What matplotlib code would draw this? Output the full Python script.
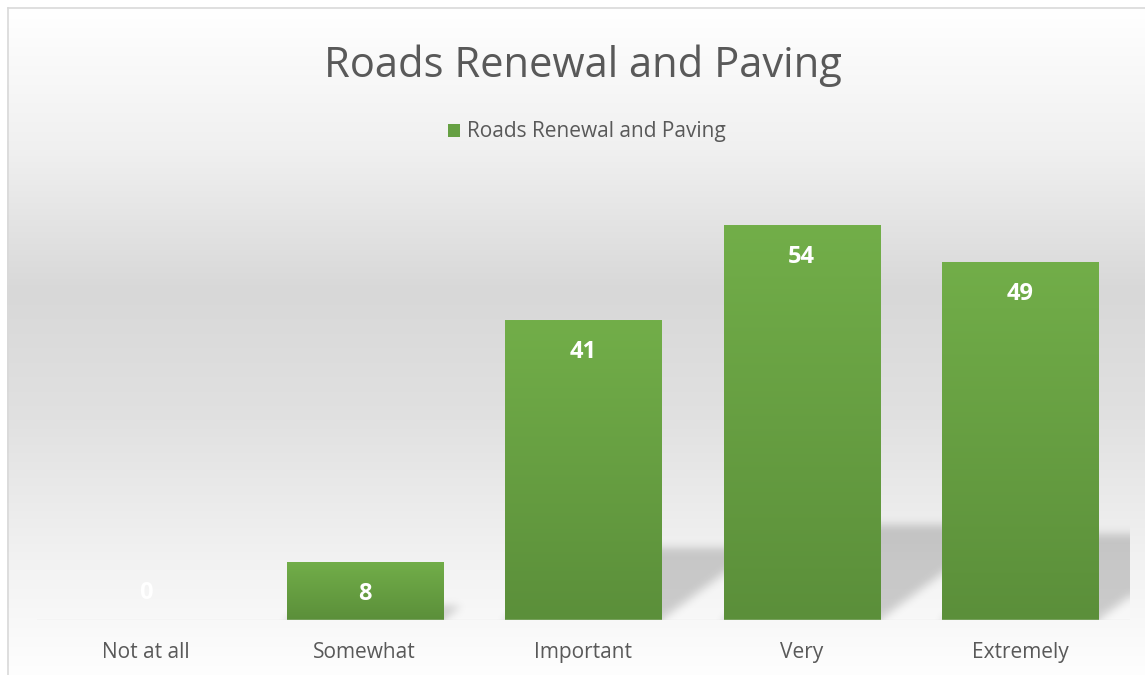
import numpy as np
import matplotlib
matplotlib.use("Agg")
import matplotlib.pyplot as plt
from matplotlib.patches import Rectangle
from matplotlib.colors import LinearSegmentedColormap

# ---- data ----
categories = ["Not at all", "Somewhat", "Important", "Very", "Extremely"]
values = [0, 8, 41, 54, 49]
series_name = "Roads Renewal and Paving"
title = "Roads Renewal and Paving"

W, H = 1145, 675
DPI = 100
plt.rcParams['font.family'] = ['Open Sans', 'DejaVu Sans']

fig = plt.figure(figsize=(W / DPI, H / DPI), dpi=DPI)

def fx(px):
    return px / W

def fy(py):
    return 1 - py / H

# ---- background gradient (figure level) ----
bg_ax = fig.add_axes([0, 0, 1, 1], zorder=-10)
bg_ax.set_axis_off()
rows = np.arange(H)
stops_y = [0, 9, 150, 290, 420, 560, 675]
stops_v = [255, 255, 240, 216, 225, 242, 254]
col = np.interp(rows, stops_y, stops_v) / 255.0
bg_img = np.dstack([np.tile(col[:, None], (1, 4))] * 3)
bg_ax.imshow(bg_img, aspect='auto', extent=[0, 1, 0, 1], interpolation='bilinear')
bg_ax.add_patch(Rectangle((0, fy(7)), 1, 1 - fy(7), transform=bg_ax.transAxes,
                          facecolor='white', edgecolor='none', zorder=2))
bg_ax.add_patch(Rectangle((0, 0), fx(7), 1, transform=bg_ax.transAxes,
                          facecolor='white', edgecolor='none', zorder=2))
bg_ax.plot([fx(7.5), fx(7.5)], [0, fy(7.5)], color='#d9d9d9', lw=1.2,
           transform=bg_ax.transAxes, zorder=3)
bg_ax.plot([fx(7.5), 1], [fy(7.5), fy(7.5)], color='#d9d9d9', lw=1.2,
           transform=bg_ax.transAxes, zorder=3)
bg_ax.set_xlim(0, 1)
bg_ax.set_ylim(0, 1)

# ---- main axes ----
left_px, right_px = 36.7, 1129.5
bottom_px, top_px = 620.0, 181.4
ax = fig.add_axes([fx(left_px), fy(bottom_px), fx(right_px - left_px),
                   (bottom_px - top_px) / H])
ax.patch.set_alpha(0)
x = np.arange(len(categories))
ymax = 60
xlim = (-0.5, len(categories) - 0.5)
bar_w = 0.714

# shadows as a blurred raster
nx, ny = int(right_px - left_px), int(bottom_px - top_px)
ppx = (right_px - left_px) / (xlim[1] - xlim[0])
ppy = (bottom_px - top_px) / ymax
gx = np.linspace(xlim[0], xlim[1], nx)
gy = np.linspace(0, ymax, ny)
XX, YY = np.meshgrid(gx, gy)
mask = np.zeros_like(XX)
for xi, v in zip(x, values):
    if v <= 0:
        continue
    hs = 0.24 * v
    dx = 1.35 * hs * ppy / ppx
    t = np.clip(YY / hs, 0, 1)
    inside = (YY >= 0) & (YY <= hs) & (XX >= xi - bar_w / 2 + dx * t) & (XX <= xi + bar_w / 2 + dx * t)
    mask = np.maximum(mask, inside.astype(float))

def blur(a, sigma):
    r = int(3 * sigma)
    k = np.exp(-0.5 * (np.arange(-r, r + 1) / sigma) ** 2)
    k /= k.sum()
    a = np.apply_along_axis(lambda m: np.convolve(np.pad(m, r, mode='edge'), k, mode='valid'), 0, a)
    a = np.apply_along_axis(lambda m: np.convolve(np.pad(m, r, mode='edge'), k, mode='valid'), 1, a)
    return a

mask = blur(mask, 4.5)
shadow = np.zeros((ny, nx, 4))
shadow[..., 3] = mask * 0.18
ax.imshow(shadow, origin='lower', extent=[xlim[0], xlim[1], 0, ymax],
          aspect='auto', zorder=1, interpolation='bilinear')

# bars with vertical gradient
bars = ax.bar(x, values, width=bar_w, color='none', edgecolor='none', zorder=2)
green = LinearSegmentedColormap.from_list('g', ['#5b8f3a', '#72ae49'])
grad = np.linspace(0, 1, 256)[:, None]
for b, v in zip(bars, values):
    if v <= 0:
        continue
    x0 = b.get_x()
    im = ax.imshow(grad, cmap=green, origin='lower', aspect='auto',
                   extent=[x0, x0 + b.get_width(), 0, v], zorder=3)
    im.set_clip_path(b)

# data labels
for xi, v in zip(x, values):
    off = -32 if v > 0 else 27
    ax.annotate(str(v), (xi, v), xytext=(0, off * 72 / DPI), textcoords='offset points',
                ha='center', va='center', color='white', fontsize=17,
                fontweight='bold', zorder=5)

ax.set_xlim(*xlim)
ax.set_ylim(0, ymax)
ax.set_xticks(x)
ax.set_xticklabels(categories, color='#595959', fontsize=15)
ax.tick_params(axis='x', length=0, pad=16)
ax.set_yticks([])
for s in ax.spines.values():
    s.set_visible(False)
ax.axhline(0, color='#e6e6e6', lw=1, zorder=4)

# title
fig.text(fx(583), fy(66), title, ha='center', va='center', fontsize=30, color='#595959')

# legend
lx = 448
fig.patches.append(Rectangle((fx(lx), fy(137)), fx(12), 13 / H, transform=fig.transFigure,
                             facecolor='#66a043', edgecolor='none'))
fig.text(fx(467), fy(132), series_name, ha='left', va='center', fontsize=15, color='#595959')

fig.savefig('out.png', dpi=DPI)
